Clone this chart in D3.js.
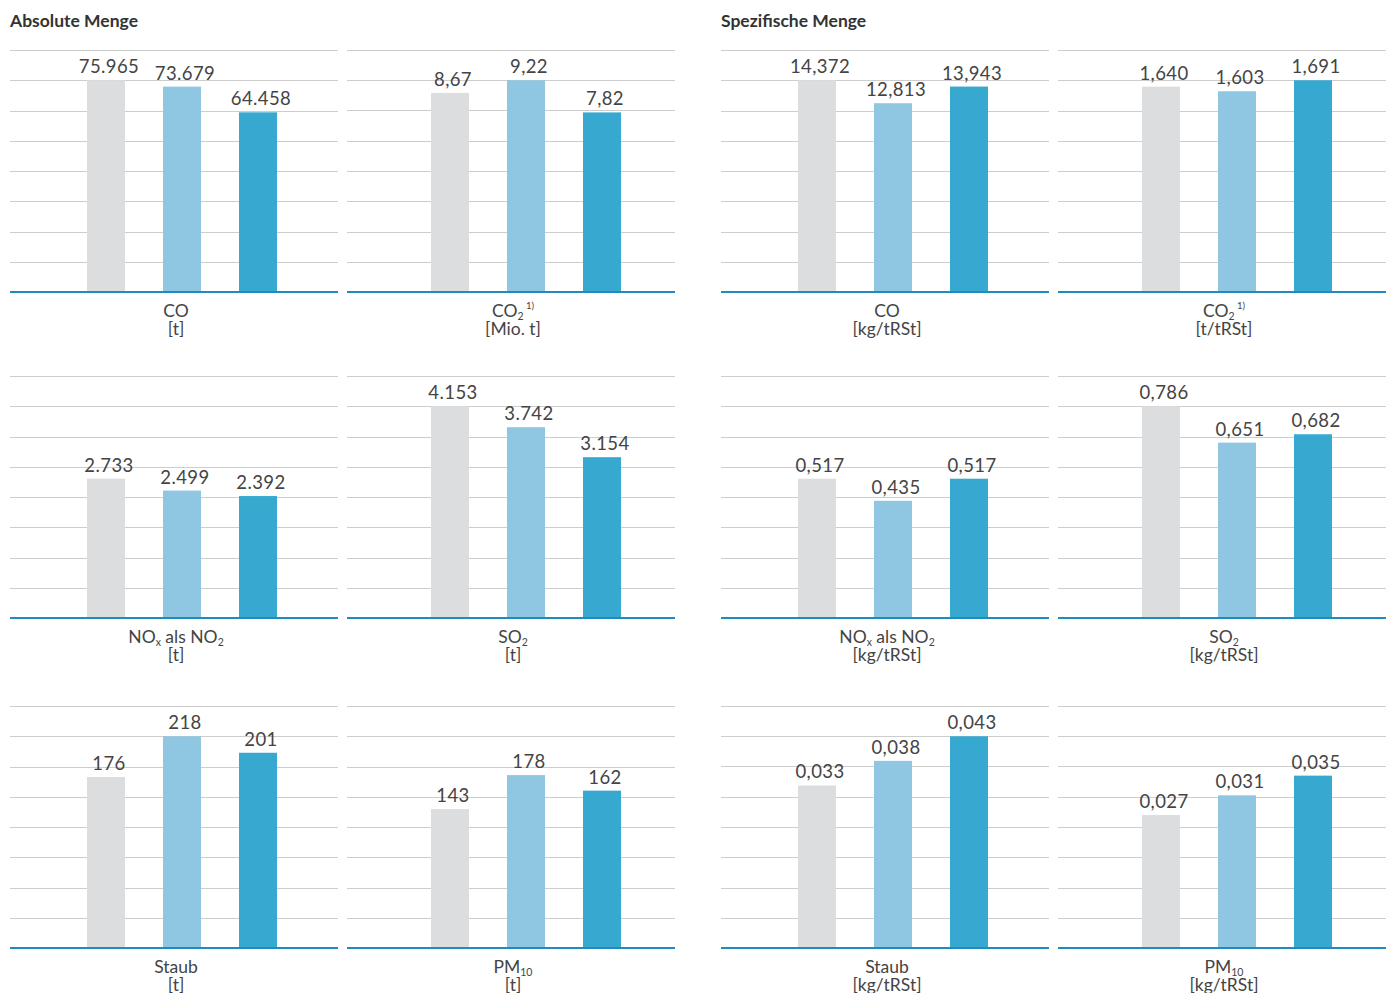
<!DOCTYPE html>
<html><head><meta charset="utf-8">
<script src="https://cdn.jsdelivr.net/npm/d3@7"></script>
<style>
body{margin:0;background:#fff;}
svg{display:block;font-family:Lato,"Open Sans",sans-serif;}
</style></head>
<body><svg id="c" width="1392" height="993"></svg>
<script>
// ---- data ----
const groupTitles = ["Absolute Menge", "Spezifische Menge"];
const seriesKeys = ["Reihe 1", "Reihe 2", "Reihe 3"];
const seriesColors = ["#dcdddf", "#8fc6e1", "#37a8cf"];

const absValues = [
  [75965, 73679, 64458],
  [8.67, 9.22, 7.82],
  [2733, 2499, 2392],
  [4153, 3742, 3154],
  [176, 218, 201],
  [143, 178, 162]
];
const specValues = [
  [14.372, 12.813, 13.943],
  [1.640, 1.603, 1.691],
  [0.517, 0.435, 0.517],
  [0.786, 0.651, 0.682],
  [0.033, 0.038, 0.043],
  [0.027, 0.031, 0.035]
];
const absFormats = [",.0f", ",.2f", ",.0f", ",.0f", ",.0f", ",.0f"];
const specFormats = [",.3f", ",.3f", ",.3f", ",.3f", ",.3f", ",.3f"];

// category labels: line 1 as [text, style] segments, line 2 unit
const catLine1 = [
  [["CO", ""]],
  [["CO", ""], ["2", "sub"], [" 1)", "sup"]],
  [["NO", ""], ["x", "sub"], [" als NO", ""], ["2", "sub"]],
  [["SO", ""], ["2", "sub"]],
  [["Staub", ""]],
  [["PM", ""], ["10", "sub"]]
];
const absUnits = ["[t]", "[Mio. t]", "[t]", "[t]", "[t]", "[t]"];
const specUnits = ["[kg/tRSt]", "[t/tRSt]", "[kg/tRSt]", "[kg/tRSt]", "[kg/tRSt]", "[kg/tRSt]"];
// panels sharing a y scale
const scaleGroups = [0, 1, 2, 2, 3, 3];

// ---- layout ----
const groupX = [10, 721];
const panelDX = [0, 337];
const barOffset = [77, 84];
const panelW = 328;
const rowTop = [50, 376, 706];
const panelH = 242;

const de = d3.formatLocale({decimal: ",", thousands: ".", grouping: [3], currency: ["", "€"]});

const svg = d3.select("#c");
const txt = "#444444";

groupTitles.forEach((t, g) => {
  svg.append("text").attr("x", groupX[g]).attr("y", 27)
    .attr("font-size", 17.5).attr("font-weight", 700).attr("fill", "#333").text(t);
});

const x = d3.scaleBand().domain(seriesKeys).range([0, 190]).paddingInner(0.5).paddingOuter(0);

[absValues, specValues].forEach((vals, g) => {
  const fmts = g === 0 ? absFormats : specFormats;
  const units = g === 0 ? absUnits : specUnits;
  const gmax = {};
  vals.forEach((v, i) => { const k = scaleGroups[i]; gmax[k] = Math.max(gmax[k] || 0, d3.max(v)); });

  vals.forEach((v, i) => {
    const col = i % 2, row = Math.floor(i / 2);
    const px = groupX[g] + panelDX[col], py = rowTop[row];
    const maxV = gmax[scaleGroups[i]];
    const y = d3.scaleLinear().domain([0, maxV * 8 / 7]).range([panelH, 0]);
    const p = svg.append("g").attr("transform", `translate(${px},${py})`);

    // gridlines
    const grid = d3.range(1, 9).map(k => k * maxV / 7);
    p.selectAll("line.grid").data(grid).join("line").attr("class", "grid")
      .attr("x1", 0).attr("x2", panelW)
      .attr("y1", d => Math.round(y(d)) + 0.5).attr("y2", d => Math.round(y(d)) + 0.5)
      .attr("stroke", "#cdcdcd").attr("stroke-width", 1.2);

    const bg = p.append("g").attr("transform", `translate(${barOffset[col]},0)`);
    bg.selectAll("rect").data(v).join("rect")
      .attr("x", (d, j) => x(seriesKeys[j])).attr("width", x.bandwidth())
      .attr("y", d => y(d)).attr("height", d => y(0) - y(d))
      .attr("fill", (d, j) => seriesColors[j]);
    bg.selectAll("text").data(v).join("text")
      .attr("x", (d, j) => x(seriesKeys[j]) + x.bandwidth() / 2 + 3)
      .attr("y", d => y(d) - 7)
      .attr("text-anchor", "middle").attr("font-size", 18.5)
      .attr("letter-spacing", 0.4).attr("fill", txt)
      .text(d => de.format(fmts[i])(d));

    // baseline
    p.append("line").attr("x1", 0).attr("x2", panelW).attr("y1", y(0)).attr("y2", y(0))
      .attr("stroke", "#1f8cc0").attr("stroke-width", 2.2);

    // category label
    const t1 = p.append("text").attr("x", panelW / 2 + 2).attr("y", y(0) + 25)
      .attr("text-anchor", "middle").attr("font-size", 17.5).attr("fill", txt);
    let cum = 0;
    catLine1[i].forEach(([s, st]) => {
      const ts = t1.append("tspan").text(s);
      if (st === "sub") ts.attr("font-size", 10.5);
      else if (st === "sup") ts.attr("font-size", 9.5);
      const target = st === "sub" ? 3 : st === "sup" ? -8 : 0;
      ts.attr("dy", target - cum);
      cum = target;
    });
    p.append("text").attr("x", panelW / 2 + 2).attr("y", y(0) + 43)
      .attr("text-anchor", "middle").attr("font-size", 17.5).attr("fill", txt)
      .text(units[i]);
  });
});
</script></body></html>
